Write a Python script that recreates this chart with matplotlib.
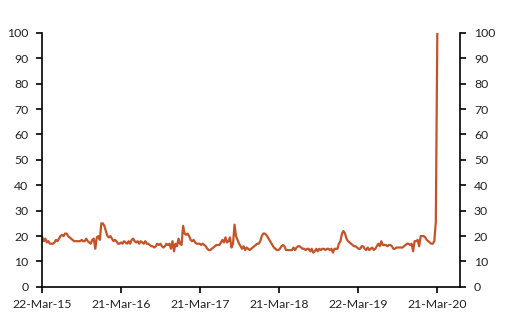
import datetime as dt

import matplotlib
matplotlib.use("Agg")
import matplotlib.pyplot as plt
import matplotlib.dates as mdates

plt.rcParams["font.family"] = ["Lato", "DejaVu Sans"]

# weekly series starting 22-Mar-15
START = dt.date(2015, 3, 22)
values = [
    19.5, 18, 19, 17.5, 18, 17, 17, 17, 17.5, 18.5,
    18, 19, 20, 20.5, 20, 21, 21, 20, 19.5, 19,
    18.5, 18, 18, 18, 18, 18, 18.5, 18, 18, 19,
    18, 17.5, 17, 18.5, 19, 15, 19.5, 20, 18.5, 25,
    25, 24, 22, 20, 19.5, 20, 19, 18, 18.5, 18,
    17, 17, 17.5, 17, 18, 17.5, 17, 18, 17, 18.5,
    19, 18, 17.5, 18, 17, 18, 17.5, 17, 18, 17,
    17, 16.5, 16, 16, 15.5, 16, 17, 16.5, 17, 16,
    15.5, 16, 17, 16.5, 17, 15, 18, 14, 17, 16,
    19, 17, 16.5, 24, 21, 20.5, 21, 20, 18.5, 18,
    18.5, 17.5, 17, 17, 17, 16.5, 17, 16.5, 16, 15,
    14.5, 14.5, 15, 15.5, 16, 16.5, 16.5, 16.5, 17.5, 18.5,
    17.5, 19.5, 17.5, 18, 19.5, 15.5, 17, 24.5, 20, 18.5,
    17, 16, 15, 16, 14.5, 15.5, 15, 14.5, 15, 15.5,
    16, 16.5, 17, 17, 18, 20, 21, 21, 20.5, 19.5,
    18.5, 17.5, 16.5, 15.5, 15, 14.5, 14.5, 15, 16, 16.5,
    16, 14.5, 14.5, 14.5, 14.5, 14.5, 15.5, 14.5, 15.5, 16,
    16, 15.5, 15, 15, 14.5, 15, 15, 14, 15, 13.5,
    14, 15, 14, 15, 14.5, 15, 15, 14.5, 15, 15,
    14.5, 15, 13.5, 15, 15, 15, 17, 18, 21, 22,
    21, 19, 18, 17.5, 17, 16.5, 16, 16, 15.5, 15,
    15, 16, 16, 15, 14.5, 15.5, 14.5, 15, 15.5, 14.5,
    15, 16, 17, 16, 18, 16.5, 16.5, 16.5, 16, 16.5,
    16.5, 16, 15, 15, 15.5, 15.5, 15.5, 15.5, 15.5, 16,
    16.5, 17, 17, 16.5, 17, 14, 18, 18, 18.5, 16,
    20, 20, 20, 19.5, 18.5, 18, 17.5, 17, 17, 18,
    25.5, 100,
]
dates = [START + dt.timedelta(weeks=i) for i in range(len(values))]

tick_dates = [dt.date(2015, 3, 22), dt.date(2016, 3, 21), dt.date(2017, 3, 21),
              dt.date(2018, 3, 21), dt.date(2019, 3, 22), dt.date(2020, 3, 21)]
y_ticks = list(range(0, 101, 10))

fig = plt.figure(figsize=(5.1, 3.22), dpi=100)
ax = fig.add_axes([0.083, 0.109, 0.819, 0.789])

ax.plot(dates, values, color="#C65228", linewidth=1.6)

ax.set_ylim(0, 100)
ax.set_xlim(START, START + dt.timedelta(days=1932))
ax.set_yticks(y_ticks)
ax.set_xticks(tick_dates)
ax.xaxis.set_major_formatter(mdates.DateFormatter("%d-%b-%y"))

ax.spines["top"].set_visible(False)
for sp in ("left", "right", "bottom"):
    ax.spines[sp].set_linewidth(1.2)
ax.tick_params(axis="both", direction="out", length=4, width=1.2,
               labelsize=8.8, colors="black")
ax.tick_params(axis="x", labelcolor="#222222")
ax.tick_params(axis="y", right=True, labelright=True, pad=6, labelcolor="#222222")
ax.tick_params(axis="x", pad=5)

fig.savefig("out.png", dpi=100)
